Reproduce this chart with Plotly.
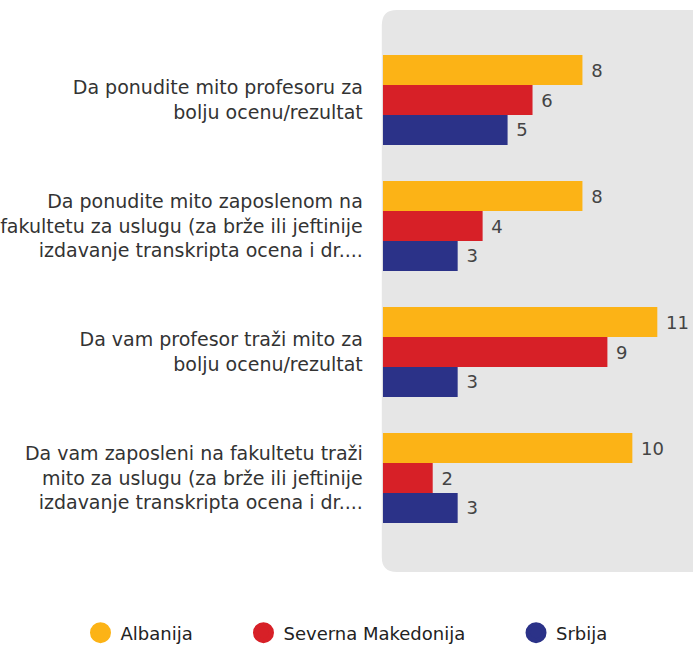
import plotly.graph_objects as go

categories = [
    "Da ponudite mito profesoru za<br>bolju ocenu/rezultat",
    "Da ponudite mito zaposlenom na<br>fakultetu za uslugu (za brže ili jeftinije<br>izdavanje transkripta ocena i dr....",
    "Da vam profesor traži mito za<br>bolju ocenu/rezultat",
    "Da vam zaposleni na fakultetu traži<br>mito za uslugu (za brže ili jeftinije<br>izdavanje transkripta ocena i dr....",
]
series_names = ["Albanija", "Severna Makedonija", "Srbija"]
albanija = [8, 8, 11, 10]
makedonija = [6, 4, 9, 2]
srbija = [5, 3, 3, 3]
colors = ["#fcb316", "#d72027", "#2b3288"]

FONT = "DejaVu Sans"
FIG_W, FIG_H = 693, 646
PLOT_L = 381
fig = go.Figure()
n = len(series_names)
for i, (name, vals, col) in enumerate(zip(series_names, [albanija, makedonija, srbija], colors)):
    fig.add_trace(go.Bar(
        y=categories, x=vals, orientation="h", name=name,
        marker=dict(color=col, line=dict(width=0)),
        text=["\u00a0" + str(v) for v in vals], textposition="outside",
        textfont=dict(family=FONT, size=18, color="#444444"),
        cliponaxis=False, showlegend=False,
    ))
    pad = "\u00a0" * 8 if i < n - 1 else ""
    fig.add_trace(go.Scatter(
        x=[None], y=[None], mode="markers", name=name + pad,
        marker=dict(symbol="circle", size=16, color=col, line=dict(color=col, width=5.5)),
        showlegend=True,
    ))

# rounded gray background panel (paper coords)
H = 504.0
r = 15.0
rx, ry = r / FIG_W, r / H
x0, x1 = (PLOT_L - 1) / FIG_W, 1.05
y0, y1 = -31 / H, 1 + 27 / H
path = (f"M {x0+rx},{y1} L {x1},{y1} L {x1},{y0} L {x0+rx},{y0} "
        f"Q {x0},{y0} {x0},{y0+ry} L {x0},{y1-ry} Q {x0},{y1} {x0+rx},{y1} Z")
fig.add_shape(type="path", path=path, xref="paper", yref="paper",
              fillcolor="#e6e6e6", line=dict(width=0), layer="below")

fig.update_layout(
    width=FIG_W, height=FIG_H,
    margin=dict(l=0, r=0, t=37, b=105, pad=0),
    paper_bgcolor="white", plot_bgcolor="rgba(0,0,0,0)",
    barmode="group", bargap=0.286, bargroupgap=0,
    font=dict(family=FONT, size=19, color="#333333"),
    xaxis=dict(domain=[PLOT_L / FIG_W, 1], range=[0, 312 / 25.1],
               visible=False, showgrid=False, zeroline=False),
    yaxis=dict(autorange="reversed", showgrid=False, zeroline=False, showline=False,
               ticks="", ticklabelstandoff=19,
               tickfont=dict(family=FONT, size=19, color="#333333")),
    legend=dict(orientation="h", xref="container", x=0.5, xanchor="center",
                yref="container", y=(FIG_H - 633) / FIG_H, yanchor="middle",
                font=dict(family=FONT, size=18, color="#222222"),
                itemsizing="trace", bgcolor="rgba(0,0,0,0)"),
)
fig.write_html("out.html", config={"displayModeBar": False},
               post_script="document.body.style.margin='0px';")
